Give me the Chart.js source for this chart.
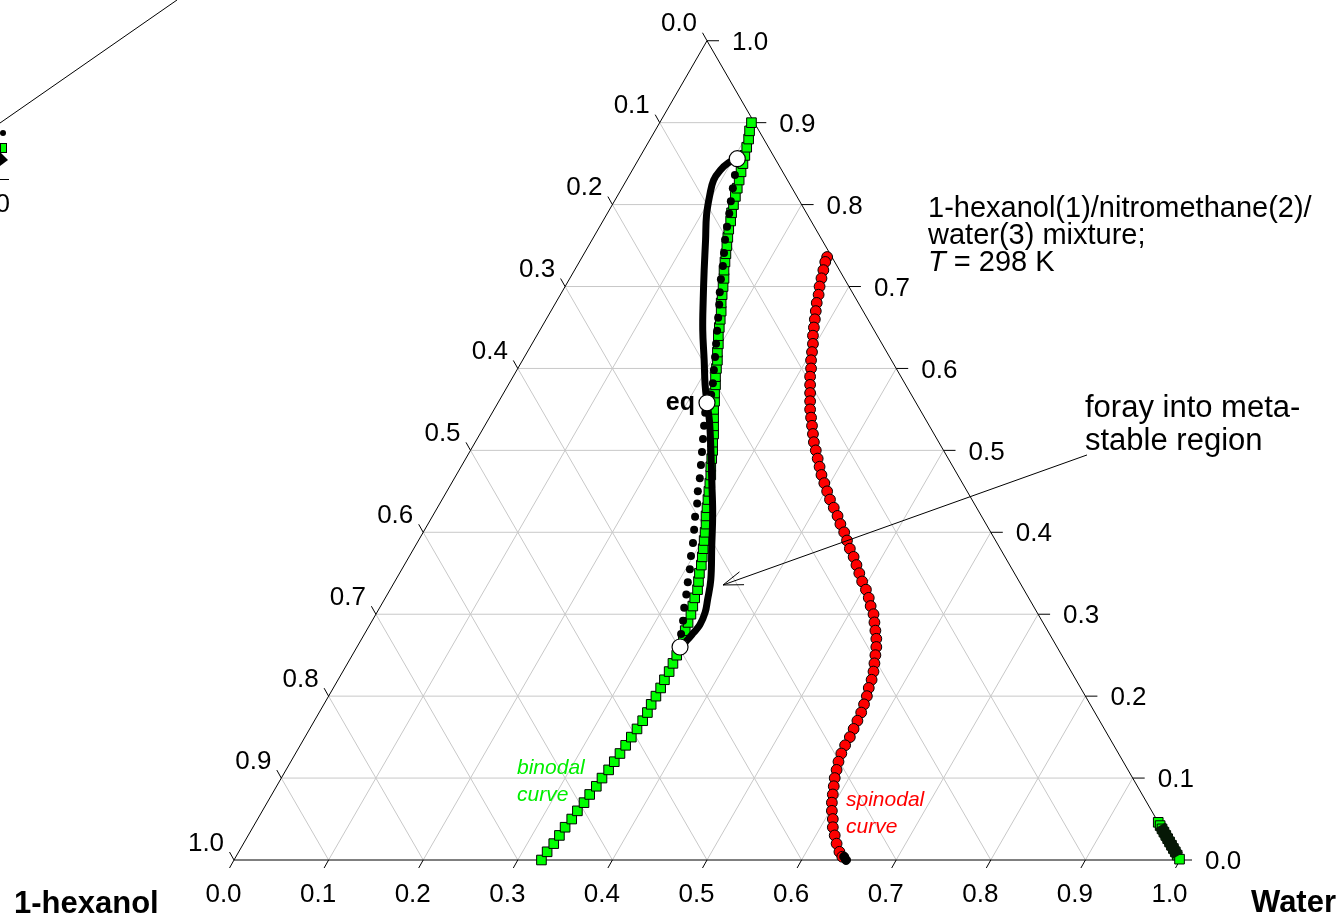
<!DOCTYPE html>
<html><head><meta charset="utf-8">
<script src="https://cdn.jsdelivr.net/npm/chart.js@4/dist/chart.umd.min.js"></script>
<style>html,body{margin:0;padding:0;background:#fff;overflow:hidden}#wrap{width:1340px;height:917px;position:relative}</style>
</head><body><div id="wrap"><canvas id="c"></canvas></div>
<script>
// ---- tick labels ----
const tickLabels = ['0.0','0.1','0.2','0.3','0.4','0.5','0.6','0.7','0.8','0.9','1.0'];

// ---- binodal curve, organic branch (water x3, nitromethane x2) ----
const binodalNitro = [0.00,0.01,0.02,0.03,0.04,0.05,0.06,0.07,0.08,0.09,
  0.10,0.11,0.12,0.13,0.14,0.15,0.16,0.17,0.18,0.19,
  0.20,0.21,0.22,0.23,0.24,0.25,0.26,0.27,0.28,0.29,
  0.30,0.31,0.32,0.33,0.34,0.35,0.36,0.37,0.38,0.39,
  0.40,0.41,0.42,0.43,0.44,0.45,0.46,0.47,0.48,0.49,
  0.50,0.51,0.52,0.53,0.54,0.55,0.56,0.57,0.58,0.59,
  0.60,0.61,0.62,0.63,0.64,0.65,0.66,0.67,0.68,0.69,
  0.70,0.71,0.72,0.73,0.74,0.75,0.76,0.77,0.78,0.79,
  0.80,0.81,0.82,0.83,0.84,0.85,0.86,0.87,0.88,0.89,0.90];
const binodalWater = [0.325,0.326,0.328,0.329,0.330,0.332,0.333,0.335,0.336,0.338,
  0.339,0.341,0.342,0.343,0.344,0.345,0.346,0.347,0.347,0.346,
  0.346,0.346,0.345,0.345,0.344,0.343,0.342,0.340,0.337,0.335,
  0.333,0.330,0.327,0.325,0.321,0.317,0.314,0.310,0.306,0.302,
  0.298,0.294,0.289,0.285,0.281,0.277,0.273,0.269,0.264,0.260,
  0.256,0.251,0.247,0.242,0.237,0.232,0.228,0.223,0.219,0.214,
  0.210,0.206,0.201,0.197,0.192,0.188,0.184,0.180,0.175,0.171,
  0.167,0.163,0.158,0.154,0.150,0.146,0.142,0.138,0.135,0.131,
  0.128,0.125,0.122,0.119,0.116,0.113,0.110,0.107,0.104,0.100,0.097];

// ---- binodal curve, aqueous branch ----
const aqueousNitro = [0.046,0.042,0.038,0.034,0.030,0.026,0.022,0.018,0.014,0.010,0.006,0.001];
const aqueousWater = [0.954,0.958,0.962,0.966,0.970,0.974,0.978,0.982,0.986,0.990,0.994,0.999];
const aqPathNitro = [0.042,0.005];
const aqPathWater = [0.958,0.995];

// ---- spinodal curve ----
const spinodalNitro = [0.736,0.73,0.72,0.71,0.70,0.69,0.68,0.67,0.66,0.65,0.64,0.63,0.62,0.61,0.60,
  0.59,0.58,0.57,0.56,0.55,0.54,0.53,0.52,0.51,0.50,0.49,0.48,0.47,0.46,0.45,
  0.44,0.43,0.42,0.41,0.40,0.39,0.38,0.37,0.36,0.35,0.34,0.33,0.32,0.31,0.30,
  0.29,0.28,0.27,0.26,0.25,0.24,0.23,0.22,0.21,0.20,0.19,0.18,0.17,0.16,0.15,
  0.14,0.13,0.12,0.11,0.10,0.09,0.08,0.07,0.06,0.05,0.04,0.03,0.02,0.01,0.004];
const spinodalWater = [0.259,0.260,0.263,0.266,0.269,0.273,0.276,0.280,0.284,0.288,0.292,0.297,0.301,0.305,0.310,
  0.314,0.319,0.324,0.329,0.334,0.340,0.346,0.352,0.358,0.365,0.372,0.379,0.386,0.394,0.402,
  0.410,0.419,0.428,0.436,0.445,0.453,0.461,0.470,0.478,0.486,0.494,0.503,0.511,0.518,0.526,
  0.532,0.538,0.544,0.549,0.553,0.557,0.561,0.564,0.566,0.569,0.571,0.573,0.574,0.575,0.576,
  0.576,0.577,0.579,0.582,0.585,0.589,0.593,0.597,0.602,0.608,0.613,0.620,0.627,0.635,0.641];
const spinodalEndNitro = [0.004,0.000];
const spinodalEndWater = [0.643,0.647];

// ---- trajectory (thick black line) ----
const trajNitro = [0.856,0.851,0.842,0.830,0.812,0.787,0.757,0.720,0.684,0.647,0.610,0.580,0.558,
  0.537,0.504,0.464,0.424,0.382,0.342,0.317,0.302,0.287,0.277,0.269,0.260];
const trajWater = [0.104,0.097,0.093,0.092,0.097,0.106,0.120,0.137,0.154,0.172,0.192,0.208,0.221,
  0.234,0.252,0.273,0.294,0.314,0.333,0.342,0.347,0.349,0.347,0.345,0.3415];

// ---- dotted path ----
const dotNitro = [0.836,0.820,0.804,0.789,0.773,0.757,0.741,0.725,0.709,0.693,0.678,0.662,0.646,0.630,0.614,0.598,0.582,0.568,
  0.546,0.530,0.514,0.498,0.482,0.466,0.450,0.435,0.419,0.403,0.387,0.371,0.355,0.339,0.324,0.308,0.292,0.276];
const dotWater = [0.1115,0.1173,0.1232,0.1290,0.1347,0.1406,0.1475,0.1543,0.1602,0.1670,0.1739,0.1808,0.1877,0.1946,0.2015,0.2083,0.2152,0.2204,
  0.2251,0.2319,0.2388,0.2457,0.2526,0.2594,0.2653,0.2721,0.2779,0.2849,0.2917,0.2976,0.3044,0.3102,0.3161,0.3219,0.3287,0.3346];

// ---- key points (white circles) ----
const keyNitro = [0.856,0.558,0.260];
const keyWater = [0.104,0.221,0.3415];

// ---- arrow annotation (tail, tip) ----
const arrowNitro = [0.4944,0.3357];
const arrowWater = [0.6545,0.3491];

// ---- helpers ----
const H = Math.sqrt(3)/2;
function toXY(water, nitro){ return water.map((w,i)=>({x: w + nitro[i]/2, y: nitro[i]*H})); }
const FONT = '"Liberation Sans", Arial, Helvetica, sans-serif';
const SIDE = 946, LEFT = 234, BASE = 860, W = 1340, HGT = 917;

function P(chart, w, n){
  return [chart.scales.x.getPixelForValue(w + n/2), chart.scales.y.getPixelForValue(n*H)];
}
function line(ctx, a, b){ ctx.beginPath(); ctx.moveTo(a[0],a[1]); ctx.lineTo(b[0],b[1]); ctx.stroke(); }

const ternary = {
  id: 'ternary',
  beforeDatasetsDraw(chart){
    const ctx = chart.ctx;
    ctx.save();
    ctx.strokeStyle = '#c8c8c8'; ctx.lineWidth = 1;
    for (let k=1;k<=9;k++){
      const f = k/10;
      line(ctx, P(chart,0,f), P(chart,1-f,f));
      line(ctx, P(chart,f,0), P(chart,f,1-f));
      line(ctx, P(chart,1-f,0), P(chart,0,1-f));
    }
    ctx.strokeStyle = '#000';
    ctx.beginPath();
    const a=P(chart,0,0), b=P(chart,1,0), c=P(chart,0,1);
    ctx.moveTo(a[0],a[1]); ctx.lineTo(b[0],b[1]); ctx.lineTo(c[0],c[1]); ctx.closePath(); ctx.stroke();
    // ticks & labels
    ctx.fillStyle = '#000';
    ctx.font = '26px ' + FONT;
    for (let k=0;k<=10;k++){
      const f = k/10;
      const bp = P(chart,f,0);
      line(ctx, bp, [bp[0]-4.5, bp[1]+8]);
      ctx.textAlign='center'; ctx.textBaseline='middle';
      ctx.fillText(tickLabels[k], bp[0]-10.5, bp[1]+35);
      const rp = P(chart,1-f,f);
      line(ctx, rp, [rp[0]+12, rp[1]]);
      ctx.textAlign='left';
      ctx.fillText(tickLabels[k], rp[0]+25, rp[1]+2);
      const lp = P(chart,0,1-f);
      line(ctx, lp, [lp[0]-4.5, lp[1]-8]);
      ctx.textAlign='center';
      ctx.fillText(tickLabels[k], lp[0]-28, lp[1]-16.5);
    }
    ctx.restore();
  },
  afterDraw(chart){
    const ctx = chart.ctx;
    ctx.save();
    ctx.fillStyle='#000'; ctx.strokeStyle='#000'; ctx.lineWidth=1;
    // vertex labels
    ctx.font = 'bold 31px ' + FONT; ctx.textBaseline='alphabetic';
    ctx.textAlign='left'; ctx.fillText('1-hexanol', 14, 913);
    ctx.textAlign='right'; ctx.fillText('Water', 1336, 912);
    // eq label
    const eq = P(chart, keyWater[1], keyNitro[1]);
    ctx.font = 'bold 25px ' + FONT; ctx.textAlign='right'; ctx.textBaseline='middle';
    ctx.fillText('eq', eq[0]-12, eq[1]);
    // mixture info
    ctx.font = '29px ' + FONT; ctx.textAlign='left'; ctx.textBaseline='alphabetic';
    ctx.fillText('1-hexanol(1)/nitromethane(2)/', 928, 217);
    ctx.fillText('water(3) mixture;', 928, 244);
    ctx.font = 'italic 29px ' + FONT; ctx.fillText('T', 928, 271);
    const tw = ctx.measureText('T').width;
    ctx.font = '29px ' + FONT; ctx.fillText(' = 298 K', 928 + tw, 271);
    // foray text
    ctx.font = '31px ' + FONT;
    ctx.fillText('foray into meta-', 1085, 417);
    ctx.fillText('stable region', 1085, 450);
    // arrow
    const t0 = P(chart, arrowWater[0], arrowNitro[0]);
    const t1 = P(chart, arrowWater[1], arrowNitro[1]);
    line(ctx, t0, t1);
    const ang = Math.atan2(t0[1]-t1[1], t0[0]-t1[0]);
    [0.33,-0.33].forEach(d=>{
      line(ctx, t1, [t1[0]+21*Math.cos(ang+d), t1[1]+21*Math.sin(ang+d)]);
    });
    // curve labels
    ctx.font = 'italic 21px ' + FONT; ctx.textBaseline='middle';
    ctx.fillStyle = '#00ee00';
    ctx.fillText('binodal', 517, 768); ctx.fillText('curve', 517, 795);
    ctx.fillStyle = '#ff0000';
    ctx.fillText('spinodal', 846, 800); ctx.fillText('curve', 846, 827);
    // clipped fragment at top-left edge
    ctx.fillStyle='#000'; ctx.strokeStyle='#000';
    line(ctx, [0,123], [177,0]);
    ctx.beginPath(); ctx.arc(3,133,3,0,Math.PI*2); ctx.fill();
    ctx.beginPath(); ctx.moveTo(0,152); ctx.lineTo(8,160); ctx.lineTo(0,166); ctx.closePath(); ctx.fill();
    ctx.fillStyle='#00ff00'; ctx.fillRect(0,143,6,9); ctx.strokeRect(0.5,143.5,6,9);
    line(ctx, [0,179.5], [9,179.5]);
    ctx.fillStyle='#000'; ctx.font='26px ' + FONT; ctx.textAlign='right'; ctx.textBaseline='middle';
    ctx.fillText('0', 10, 205);
    ctx.restore();
  }
};

new Chart(document.getElementById('c'), {
  type: 'scatter',
  data: { datasets: [
    { label:'key points', data: toXY(keyWater,keyNitro), pointRadius:8, pointBackgroundColor:'#fff', pointBorderColor:'#000', pointBorderWidth:1.2, order:0, clip:false },
    { label:'dotted path', data: toXY(dotWater,dotNitro), pointRadius:4, pointBackgroundColor:'#000', pointBorderColor:'#000', pointBorderWidth:0, order:1, clip:false },
    { label:'trajectory', data: toXY(trajWater,trajNitro), showLine:true, borderColor:'#000', borderWidth:7, pointRadius:0, tension:0.4, order:2, clip:false },
    { label:'aqueous path', data: toXY(aqPathWater,aqPathNitro), showLine:true, borderColor:'#061806', borderWidth:12, pointRadius:0, order:3, clip:false },
    { label:'spinodal end', data: toXY(spinodalEndWater,spinodalEndNitro), pointRadius:4.5, pointBackgroundColor:'#000', pointBorderColor:'#000', order:4, clip:false },
    { label:'binodal', data: toXY(binodalWater,binodalNitro), pointStyle:'rect', pointRadius:6.8, pointBackgroundColor:'#00ff00', pointBorderColor:'#000', pointBorderWidth:1, order:5, clip:false },
    { label:'binodal aqueous', data: toXY(aqueousWater,aqueousNitro), pointStyle:'rect', pointRadius:6.8, pointBackgroundColor:'#00ff00', pointBorderColor:'#000', pointBorderWidth:1, order:6, clip:false },
    { label:'spinodal', data: toXY(spinodalWater,spinodalNitro), pointRadius:5.4, pointBackgroundColor:'#ff0000', pointBorderColor:'#000', pointBorderWidth:1, order:7, clip:false }
  ]},
  options: {
    responsive:true, maintainAspectRatio:false, animation:false, events:[],
    layout:{padding:0, autoPadding:false},
    plugins:{ legend:{display:false}, tooltip:{enabled:false} },
    scales:{
      x:{ type:'linear', display:false, min: -LEFT/SIDE, max: (W-LEFT)/SIDE },
      y:{ type:'linear', display:false, min: -(HGT-BASE)/SIDE, max: BASE/SIDE }
    }
  },
  plugins:[ternary]
});
</script>
</body></html>
